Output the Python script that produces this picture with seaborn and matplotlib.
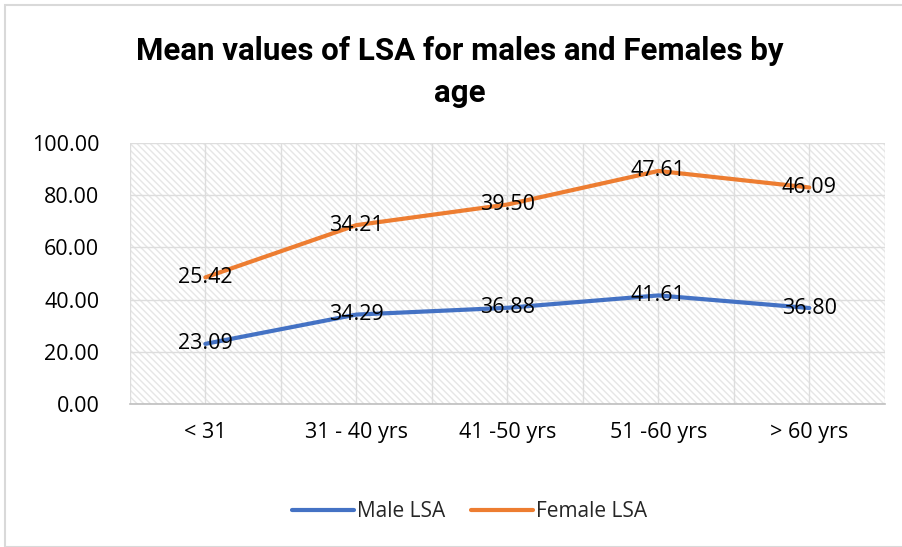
import pandas as pd
import seaborn as sns
import matplotlib.pyplot as plt
from matplotlib.patches import Rectangle

age_groups = ['< 31', '31 - 40 yrs', '41 -50 yrs', '51 -60 yrs', '> 60 yrs']
male_lsa = [23.09, 34.29, 36.88, 41.61, 36.80]
female_lsa = [25.42, 34.21, 39.50, 47.61, 46.09]
y_ticks = [0, 20, 40, 60, 80, 100]

BLUE = '#4472C4'
ORANGE = '#ED7D31'

# Excel "stacked line": female line sits on top of the male line
female_stacked = [m + f for m, f in zip(male_lsa, female_lsa)]

df = pd.DataFrame({
    'age': age_groups * 2,
    'value': male_lsa + female_stacked,
    'series': ['Male LSA'] * 5 + ['Female LSA'] * 5,
})

sns.set_style('white')
plt.rcParams['font.family'] = ['Open Sans', 'DejaVu Sans']

fig = plt.figure(figsize=(9.02, 5.47), dpi=100)
fig.patches.append(Rectangle((0.006, 0.0), 1.2, 0.99, transform=fig.transFigure,
                             fill=False, edgecolor='#D9D9D9', linewidth=1.5))
ax = fig.add_axes([0.144, 0.261, 0.837, 0.478])

# hatched plot area background
ax.add_patch(Rectangle((0, 0), 1, 1, transform=ax.transAxes, facecolor='white',
                       edgecolor='#E6E6E6', hatch='\\\\\\\\\\', linewidth=0, zorder=0))

sns.lineplot(data=df, x='age', y='value', hue='series', sort=False,
             palette={'Male LSA': BLUE, 'Female LSA': ORANGE},
             linewidth=3, ax=ax, zorder=3)

for i, (m, fs, f) in enumerate(zip(male_lsa, female_stacked, female_lsa)):
    ax.text(i, m, f'{m:.2f}', ha='center', va='center', fontsize=15.5,
            color='black', zorder=4)
    ax.text(i, fs, f'{f:.2f}', ha='center', va='center', fontsize=15.5,
            color='black', zorder=4)

ax.set_xlim(-0.5, 4.5)
ax.set_ylim(0, 100)
ax.set_yticks(y_ticks)
ax.set_yticklabels([f'{v:.2f}' for v in y_ticks])
ax.set_xticks(range(len(age_groups)))
ax.set_xticks([i - 0.5 for i in range(len(age_groups) + 1)], minor=True)
ax.tick_params(axis='both', which='both', length=0, labelsize=15.5,
               labelcolor='black')
ax.tick_params(axis='x', pad=13)
ax.tick_params(axis='y', pad=22)
ax.grid(True, axis='y', color='#DDDDDD', linewidth=1)
ax.grid(True, axis='x', which='both', color='#DDDDDD', linewidth=1)
ax.set_axisbelow(True)
ax.set_xlabel('')
ax.set_ylabel('')
for s in ['left', 'right', 'top']:
    ax.spines[s].set_visible(False)
ax.spines['bottom'].set_color('#BFBFBF')
ax.spines['bottom'].set_linewidth(1.2)

handles, labels = ax.get_legend_handles_labels()
ax.legend(handles, labels, loc='center', bbox_to_anchor=(0.5 - 0.05, -0.41),
          ncol=2, frameon=False, fontsize=15, handlelength=3.0,
          handletextpad=0.15, columnspacing=1.2)

fig.text(0.51, 0.868, 'Mean values of LSA for males and Females by\nage',
         ha='center', va='center', fontsize=22.5, fontweight='bold',
         color='black', family=['Roboto', 'DejaVu Sans'], linespacing=1.5)

fig.savefig('out.png', dpi=100)
